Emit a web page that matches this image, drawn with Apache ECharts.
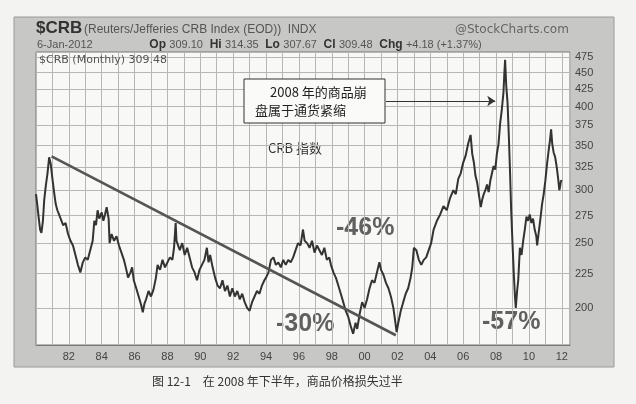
<!DOCTYPE html>
<html><head><meta charset="utf-8">
<script src="https://cdn.jsdelivr.net/npm/echarts@6/dist/echarts.min.js"></script>
<style>html,body{margin:0;padding:0;background:#f3f3f1;}#c{width:636px;height:404px;}</style>
</head><body><div id="c"></div>
<script>
const years = [1980.0,1980.08,1980.17,1980.25,1980.33,1980.42,1980.5,1980.6,1980.7,1980.8,1980.9,1981.0,1981.1,1981.2,1981.3,1981.4,1981.5,1981.65,1981.8,1981.95,1982.1,1982.25,1982.4,1982.55,1982.7,1982.85,1983.0,1983.15,1983.3,1983.45,1983.55,1983.65,1983.75,1983.85,1984.0,1984.1,1984.2,1984.3,1984.42,1984.48,1984.6,1984.75,1984.9,1985.05,1985.2,1985.35,1985.5,1985.6,1985.75,1985.85,1985.95,1986.1,1986.25,1986.4,1986.5,1986.6,1986.7,1986.85,1987.0,1987.15,1987.3,1987.4,1987.55,1987.7,1987.85,1988.0,1988.15,1988.3,1988.4,1988.5,1988.55,1988.6,1988.75,1988.9,1989.05,1989.2,1989.35,1989.5,1989.65,1989.8,1989.95,1990.1,1990.25,1990.4,1990.5,1990.6,1990.75,1990.9,1991.05,1991.2,1991.35,1991.5,1991.65,1991.8,1991.95,1992.1,1992.25,1992.4,1992.55,1992.7,1992.85,1993.0,1993.15,1993.3,1993.45,1993.6,1993.75,1993.9,1994.0,1994.15,1994.3,1994.45,1994.6,1994.75,1994.9,1995.05,1995.2,1995.35,1995.5,1995.65,1995.8,1995.95,1996.1,1996.25,1996.35,1996.5,1996.65,1996.8,1996.95,1997.1,1997.25,1997.4,1997.55,1997.7,1997.85,1997.95,1998.1,1998.25,1998.4,1998.55,1998.7,1998.85,1999.0,1999.15,1999.3,1999.45,1999.55,1999.7,1999.85,2000.0,2000.15,2000.3,2000.45,2000.6,2000.75,2000.9,2001.0,2001.15,2001.3,2001.45,2001.6,2001.75,2001.85,2001.95,2002.05,2002.2,2002.35,2002.5,2002.65,2002.8,2002.9,2003.0,2003.15,2003.3,2003.45,2003.6,2003.75,2003.9,2004.05,2004.2,2004.4,2004.6,2004.8,2005.0,2005.2,2005.4,2005.55,2005.7,2005.85,2006.0,2006.15,2006.3,2006.45,2006.55,2006.65,2006.75,2006.85,2006.95,2007.07,2007.15,2007.25,2007.35,2007.45,2007.55,2007.65,2007.75,2007.85,2007.95,2008.05,2008.15,2008.25,2008.35,2008.45,2008.5,2008.55,2008.62,2008.7,2008.78,2008.85,2008.92,2009.0,2009.08,2009.15,2009.2,2009.28,2009.35,2009.45,2009.55,2009.65,2009.75,2009.85,2009.95,2010.05,2010.15,2010.25,2010.35,2010.45,2010.5,2010.6,2010.7,2010.8,2010.9,2011.0,2011.1,2011.2,2011.28,2011.35,2011.42,2011.5,2011.6,2011.7,2011.78,2011.85,2011.9,2011.95,2012.02];
const crb = [296,285,272,262,259,270,290,305,318,336,328,312,298,286,280,276,272,266,268,258,252,248,240,232,226,234,238,236,244,252,270,266,280,272,278,270,276,283,272,250,258,252,256,248,242,236,228,222,226,230,220,214,208,202,197,203,206,212,208,213,222,232,228,236,230,234,238,236,246,268,252,252,244,250,240,246,238,230,226,220,228,232,236,246,234,240,230,222,216,214,220,212,216,208,214,208,212,206,210,204,200,198,204,208,212,210,216,220,222,226,236,238,232,234,230,236,232,236,234,238,244,250,248,262,252,250,246,252,242,248,244,240,246,236,238,232,226,222,216,210,204,198,194,188,183,190,186,196,204,200,206,214,220,218,226,234,228,224,218,214,208,200,192,184,190,198,204,210,214,222,230,246,244,236,232,236,238,244,250,262,270,276,284,280,292,300,296,312,318,330,338,352,363,340,330,315,308,296,283,290,296,300,306,298,310,318,326,322,340,352,378,396,420,446,470,430,405,360,320,280,250,225,208,200,212,220,246,240,252,262,274,270,276,268,272,262,256,248,260,272,286,296,310,328,344,356,370,352,342,336,324,312,300,304,310,309.5];
const trendYears = [1980.95, 2001.9];
const trendValues = [337, 182];
const yTicks = [200,225,250,275,300,325,350,375,400,425,450,475];
const xLabelYears = [1982,1984,1986,1988,1990,1992,1994,1996,1998,2000,2002,2004,2006,2008,2010,2012];

const chart = echarts.init(document.getElementById('c'));
const lineData = years.map((y,i)=>[y,crb[i]]);
const trendData = trendYears.map((y,i)=>[y,trendValues[i]]);
const gridLines = yTicks.map(v=>({yAxis:v}));
const sansN = '"Liberation Sans Narrow", "Liberation Sans", sans-serif';
const gridColor = '#b6b6b4';
chart.setOption({
  animation:false,
  backgroundColor:'#f3f3f1',
  graphic:[
    {type:'rect',shape:{x:14,y:17,width:600,height:350},style:{fill:'#c7c7c5',stroke:'#9a9a98',lineWidth:1},z:-10,silent:true},
    {type:'text',left:36,top:20,style:{text:'$CRB',font:'bold 17px '+sansN,fill:'#333'}},
    {type:'text',left:84,top:24,style:{text:'(Reuters/Jefferies CRB Index (EOD))  INDX',font:'12px '+sansN,fill:'#555'}},
    {type:'text',left:455,top:24,style:{text:'@StockCharts.com',font:'12px "DejaVu Sans", sans-serif',fill:'#666'}},
    {type:'text',left:37,top:39,style:{
      rich:{n:{font:'11px '+sansN,fill:'#555'},b:{font:'bold 12px '+sansN,fill:'#333'}},
      text:'{n|6-Jan-2012}                 {b|Op} {n|309.10}  {b|Hi} {n|314.35}  {b|Lo} {n|307.67}  {b|Cl} {n|309.48}  {b|Chg} {n|+4.18 (+1.37%)}'}},
    {type:'text',left:39,top:55,z:10,style:{text:'$CRB (Monthly) 309.48',font:'11px "DejaVu Sans", sans-serif',fill:'#555'}},
    {type:'rect',shape:{x:244,y:79,width:141,height:44},style:{fill:'#fafaf8',stroke:'#333',lineWidth:1},z:5},
    {type:'text',left:270,top:86,z:6,style:{text:'2008 年的商品崩',font:'13px "Noto Sans CJK SC", serif',fill:'#222'}},
    {type:'text',left:255,top:104,z:6,style:{text:'盘属于通货紧缩',font:'13px "Noto Sans CJK SC", serif',fill:'#222'}},
    {type:'text',left:268,top:142,style:{text:'CRB 指数',font:'13px "Noto Sans CJK SC", serif',fill:'#333'}},
    {type:'text',left:336,top:216,style:{text:'-46%',font:'bold 25px "Liberation Sans", sans-serif',fill:'#606060'}},
    {type:'text',left:276,top:312,style:{text:'-30%',font:'bold 25px "Liberation Sans", sans-serif',fill:'#606060'}},
    {type:'text',left:482,top:310,style:{text:'-57%',font:'bold 25px "Liberation Sans", sans-serif',fill:'#606060'}},
    {type:'text',left:152,top:375,style:{text:'图 12-1　在 2008 年下半年，商品价格损失过半',font:'12px "Noto Sans CJK SC", serif',fill:'#333'}}
  ],
  grid:{left:36,right:66,top:52,bottom:59,show:true,backgroundColor:'#f8f8f6',borderColor:'#777',borderWidth:1},
  xAxis:{type:'value',min:1980,max:2012.5,interval:1,
    axisLine:{show:true,lineStyle:{color:'#777'}},axisTick:{show:false},
    splitLine:{show:true,lineStyle:{color:gridColor,width:1}},
    axisLabel:{color:'#444',fontSize:11,fontFamily:'Liberation Sans',margin:6,
      formatter:v=>xLabelYears.indexOf(v)>=0?String(v).slice(2):''}},
  yAxis:{type:'log',position:'right',min:176,max:483,
    axisLine:{show:false},axisTick:{show:false},splitLine:{show:false},
    axisLabel:{color:'#444',fontSize:11,fontFamily:'Liberation Sans',margin:5,customValues:yTicks}},
  series:[
    {type:'line',data:lineData,symbol:'none',lineStyle:{color:'#333',width:2},z:3,
      markLine:{silent:true,symbol:'none',label:{show:false},lineStyle:{color:gridColor,width:1,type:'solid'},data:gridLines,z:1}},
    {type:'line',data:trendData,symbol:'none',lineStyle:{color:'#555',width:2.6},z:4,
      markLine:{silent:true,symbol:['none','arrow'],symbolSize:8,label:{show:false},lineStyle:{color:'#333',width:1,type:'solid'},
        data:[[{coord:[2001.3,408]},{coord:[2007.95,408]}]]}}
  ]
});
</script></body></html>
